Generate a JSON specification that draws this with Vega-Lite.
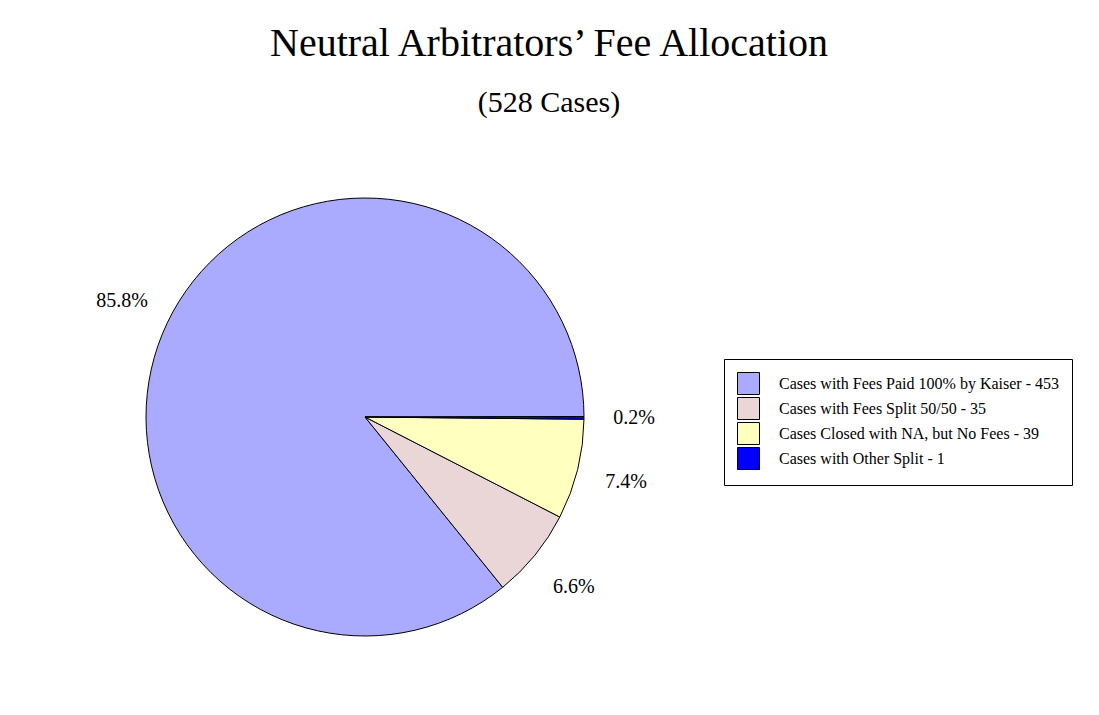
{
  "$schema": "https://vega.github.io/schema/vega-lite/v6.json",
  "width": 600,
  "height": 500,
  "autosize": {"type": "none"},
  "padding": {"left": 65, "top": 167, "right": 434, "bottom": 48},
  "background": "white",
  "title": {
    "text": "Neutral Arbitrators’ Fee Allocation",
    "subtitle": "(528 Cases)",
    "anchor": "middle",
    "dx": 184,
    "offset": 49,
    "font": "Liberation Serif",
    "fontSize": 40,
    "fontWeight": "normal",
    "color": "black",
    "subtitleFont": "Liberation Serif",
    "subtitleFontSize": 30,
    "subtitleColor": "black",
    "subtitlePadding": 24
  },
  "data": {
    "values": [
      {"category": "Cases with Fees Paid 100% by Kaiser - 453", "cases": 453, "share": 0.858},
      {"category": "Cases with Fees Split 50/50 - 35", "cases": 35, "share": 0.066},
      {"category": "Cases Closed with NA, but No Fees - 39", "cases": 39, "share": 0.074},
      {"category": "Cases with Other Split - 1", "cases": 1, "share": 0.002}
    ]
  },
  "transform": [
    {"window": [{"op": "row_number", "as": "seq"}]}
  ],
  "encoding": {
    "theta": {
      "field": "cases",
      "type": "quantitative",
      "stack": true,
      "scale": {"range": [1.5691, -4.7141]}
    },
    "order": {"field": "seq", "type": "quantitative", "sort": "ascending"}
  },
  "layer": [
    {
      "mark": {"type": "arc", "outerRadius": 219, "stroke": "black", "strokeWidth": 1, "opacity": 1},
      "encoding": {
        "color": {
          "field": "category",
          "type": "nominal",
          "sort": [
            "Cases with Fees Paid 100% by Kaiser - 453",
            "Cases with Fees Split 50/50 - 35",
            "Cases Closed with NA, but No Fees - 39",
            "Cases with Other Split - 1"
          ],
          "scale": {
            "range": ["#aaaaff", "#ead6d6", "#ffffc0", "#0000ff"]
          },
          "legend": {
            "title": null,
            "orient": "none",
            "legendX": 659,
            "legendY": 192,
            "padding": 13,
            "strokeColor": "black",
            "fillColor": "white",
            "symbolType": "square",
            "symbolSize": 484,
            "symbolStrokeColor": "black",
            "symbolStrokeWidth": 1,
            "symbolOpacity": 1,
            "labelFont": "Liberation Serif",
            "labelFontSize": 16,
            "labelColor": "black",
            "labelOffset": 19,
            "labelLimit": 400,
            "rowPadding": -4
          }
        }
      }
    },
    {
      "mark": {"type": "text", "radius": 269, "font": "Liberation Serif", "fontSize": 20, "color": "black"},
      "encoding": {
        "text": {"field": "share", "type": "quantitative", "format": ".1%"}
      }
    }
  ],
  "config": {"view": {"stroke": null}}
}
